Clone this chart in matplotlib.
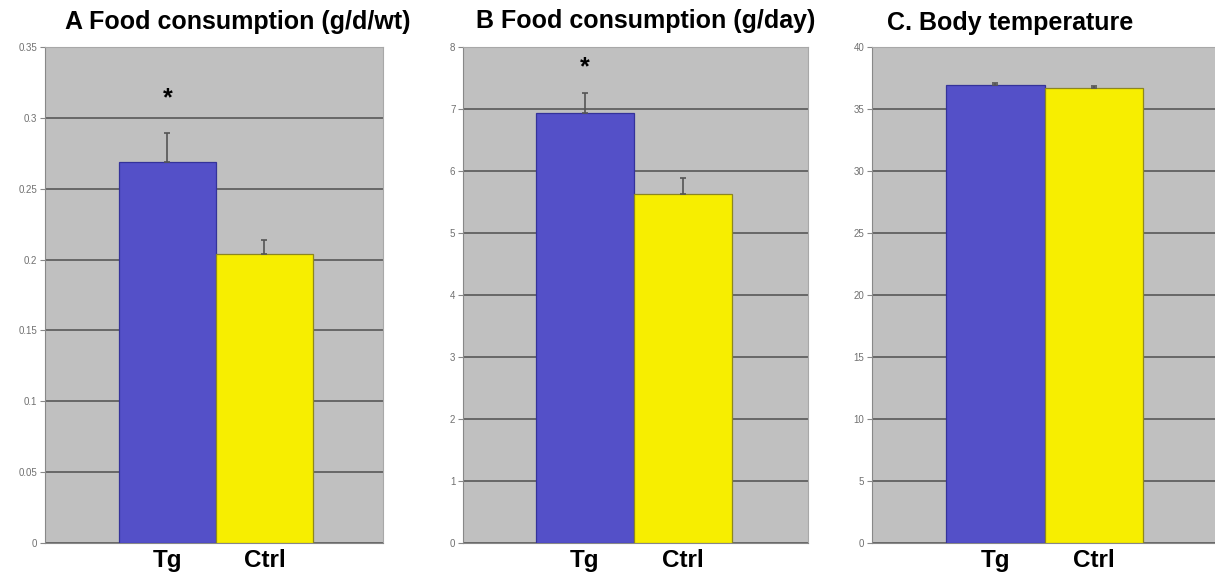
import matplotlib
matplotlib.use("Agg")
import matplotlib.pyplot as plt
from matplotlib.transforms import offset_copy

groups = ["Tg", "Ctrl"]
food_wt = [0.269, 0.204]
food_wt_err = [0.020, 0.010]
food_day = [6.94, 5.63]
food_day_err = [0.32, 0.26]
body_temp = [36.9, 36.7]
body_temp_err = [0.2, 0.15]

titles = ["A Food consumption (g/d/wt)", "B Food consumption (g/day)", "C. Body temperature"]
yticks_a = [0, 0.05, 0.1, 0.15, 0.2, 0.25, 0.3, 0.35]
yticklabels_a = ["0", "0.05", "0.1", "0.15", "0.2", "0.25", "0.3", "0.35"]
yticks_b = [0, 1, 2, 3, 4, 5, 6, 7, 8]
yticks_c = [0, 5, 10, 15, 20, 25, 30, 35, 40]
star_a = 0.317
star_b = 7.76

plt.rcParams['font.family'] = ['Liberation Sans', 'DejaVu Sans']

W, H = 1215, 580
fig = plt.figure(figsize=(W / 100, H / 100), dpi=100)
fig.patch.set_facecolor('white')

BLUE = '#5450C8'
YELLOW = '#F7EE00'
BG = '#C0C0C0'
GRID = '#585858'

# (left px, right px, top px, bottom px)
boxes = [(45, 383, 47, 543), (463, 808, 47, 543), (872, 1218, 47, 543)]
xlims = [(-1.263, 2.222), (-1.245, 2.276), (-1.251, 2.26)]
datasets = [
    (food_wt, food_wt_err, yticks_a, yticklabels_a, star_a),
    (food_day, food_day_err, yticks_b, [str(t) for t in yticks_b], star_b),
    (body_temp, body_temp_err, yticks_c, [str(t) for t in yticks_c], None),
]
title_pos = [(65, 29), (476, 28), (887, 30)]

for box, xl, (vals, errs, yt, ytl, star), tp, title in zip(boxes, xlims, datasets, title_pos, titles):
    l, r, t, b = box
    ax = fig.add_axes((l / W, 1 - b / H, (r - l) / W, (b - t) / H))
    ax.set_facecolor(BG)
    ax.set_xlim(*xl)
    ax.set_ylim(yt[0], yt[-1])
    ax.set_yticks(yt)
    ax.set_yticklabels(ytl, fontsize=7, color='#707070')
    ax.tick_params(axis='y', length=3.5, width=0.8, color='#888888', pad=2)
    ax.set_axisbelow(True)
    ax.yaxis.grid(True, color=GRID, linewidth=1.2)
    ax.xaxis.grid(False)
    x = [0, 1]
    ax.bar(x, vals, width=1.0, color=[BLUE, YELLOW],
           edgecolor=['#34329A', '#8C8620'], linewidth=0.9, zorder=3)
    ax.errorbar(x, vals, yerr=[[0, 0], errs], fmt='none', ecolor='#555555',
                elinewidth=1.2, capsize=2.5, capthick=1.2, zorder=4)
    ax.set_xticks(x)
    ax.set_xticklabels(groups, fontsize=17.5, fontweight='bold', color='black')
    ax.tick_params(axis='x', length=0, pad=4.3)
    for s in ['left', 'bottom']:
        ax.spines[s].set_color('#888888')
        ax.spines[s].set_linewidth(0.8)
    for s in ['top', 'right']:
        ax.spines[s].set_color('#A8A8A8')
        ax.spines[s].set_linewidth(0.8)
    if star is not None:
        tr = offset_copy(ax.transData, fig=fig, x=0, y=-5, units='dots')
        ax.text(0, star, '*', ha='center', va='center', fontsize=18,
                fontweight='bold', color='black', zorder=5, transform=tr)
    fig.text(tp[0] / W, 1 - tp[1] / H, title, ha='left', va='baseline', fontsize=18,
             fontweight='bold', color='black')

fig.savefig('out.png', dpi=100, facecolor='white')
